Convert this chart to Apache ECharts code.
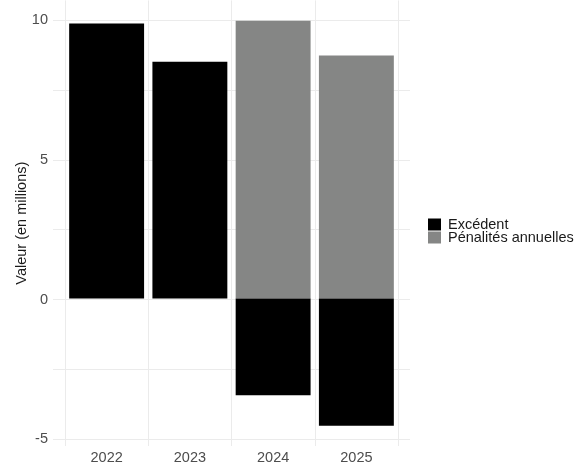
<!DOCTYPE html>
<html>
<head>
<meta charset="utf-8">
<script src="https://cdn.jsdelivr.net/npm/echarts@6/dist/echarts.min.js"></script>
<style>html,body{margin:0;padding:0;background:#fff}#c{width:581px;height:465px}</style>
</head>
<body>
<div id="c"></div>
<script>
const categories = ['2022', '2023', '2024', '2025'];
const excedent = [9.87, 8.5, -3.47, -4.56];
const penalites = [null, null, 9.97, 8.72];
const yTickLabels = [-5, 0, 5, 10];
const seriesNames = ['Excédent', 'Pénalités annuelles'];
const yTitle = 'Valeur (en millions)';

const font = 'Liberation Sans, Arial, sans-serif';
const legendBase = {
  orient: 'vertical', left: 428, padding: 0,
  itemWidth: 13, itemHeight: 12, itemGap: 0, icon: 'rect',
  textStyle: {fontFamily: font, fontSize: 14.5, color: '#1a1a1a', padding: [0,0,0,2]}
};
const chart = echarts.init(document.getElementById('c'), null, {renderer: 'canvas'});
chart.setOption({
  animation: false,
  backgroundColor: '#ffffff',
  grid: [
    {left: 53, right: 171, top: 20, bottom: 25.7},
    {left: 65, right: 183, top: 0.4, bottom: 17.6}
  ],
  legend: [
    Object.assign({}, legendBase, {top: 217, data: [seriesNames[0]]}),
    Object.assign({}, legendBase, {top: 230, data: [seriesNames[1]]})
  ],
  xAxis: [
    {gridIndex: 0, type: 'value', show: false, min: 0, max: 1},
    {gridIndex: 1, type: 'category', data: categories, boundaryGap: true,
     axisLine: {show: false}, axisTick: {show: false},
     axisLabel: {fontFamily: font, fontSize: 14.5, color: '#4d4d4d', margin: 4},
     splitLine: {show: true, interval: 0, lineStyle: {color: '#ebebeb', width: 1}}}
  ],
  yAxis: [
    {gridIndex: 0, type: 'value', min: -5, max: 10, interval: 2.5,
     axisLine: {show: false}, axisTick: {show: false},
     axisLabel: {fontFamily: font, fontSize: 14.5, color: '#4d4d4d', margin: 5,
       formatter: v => yTickLabels.includes(v) ? String(v) : ''},
     splitLine: {show: true, lineStyle: {color: '#ebebeb', width: 1}}},
    {gridIndex: 1, type: 'value', min: -5.29, max: 10.7,
     axisLine: {show: false}, axisTick: {show: false}, axisLabel: {show: false},
     splitLine: {show: false},
     name: yTitle, nameLocation: 'middle', nameGap: 36,
     nameTextStyle: {fontFamily: font, fontSize: 14.5, color: '#1a1a1a'}}
  ],
  series: [
    {name: seriesNames[0], type: 'bar', xAxisIndex: 1, yAxisIndex: 1, data: excedent,
     barWidth: '90%', barGap: '-100%', itemStyle: {color: '#000000'}, z: 3},
    {name: seriesNames[1], type: 'bar', xAxisIndex: 1, yAxisIndex: 1, data: penalites,
     barWidth: '90%', barGap: '-100%', itemStyle: {color: '#858685'}, z: 2}
  ]
});
</script>
</body>
</html>
